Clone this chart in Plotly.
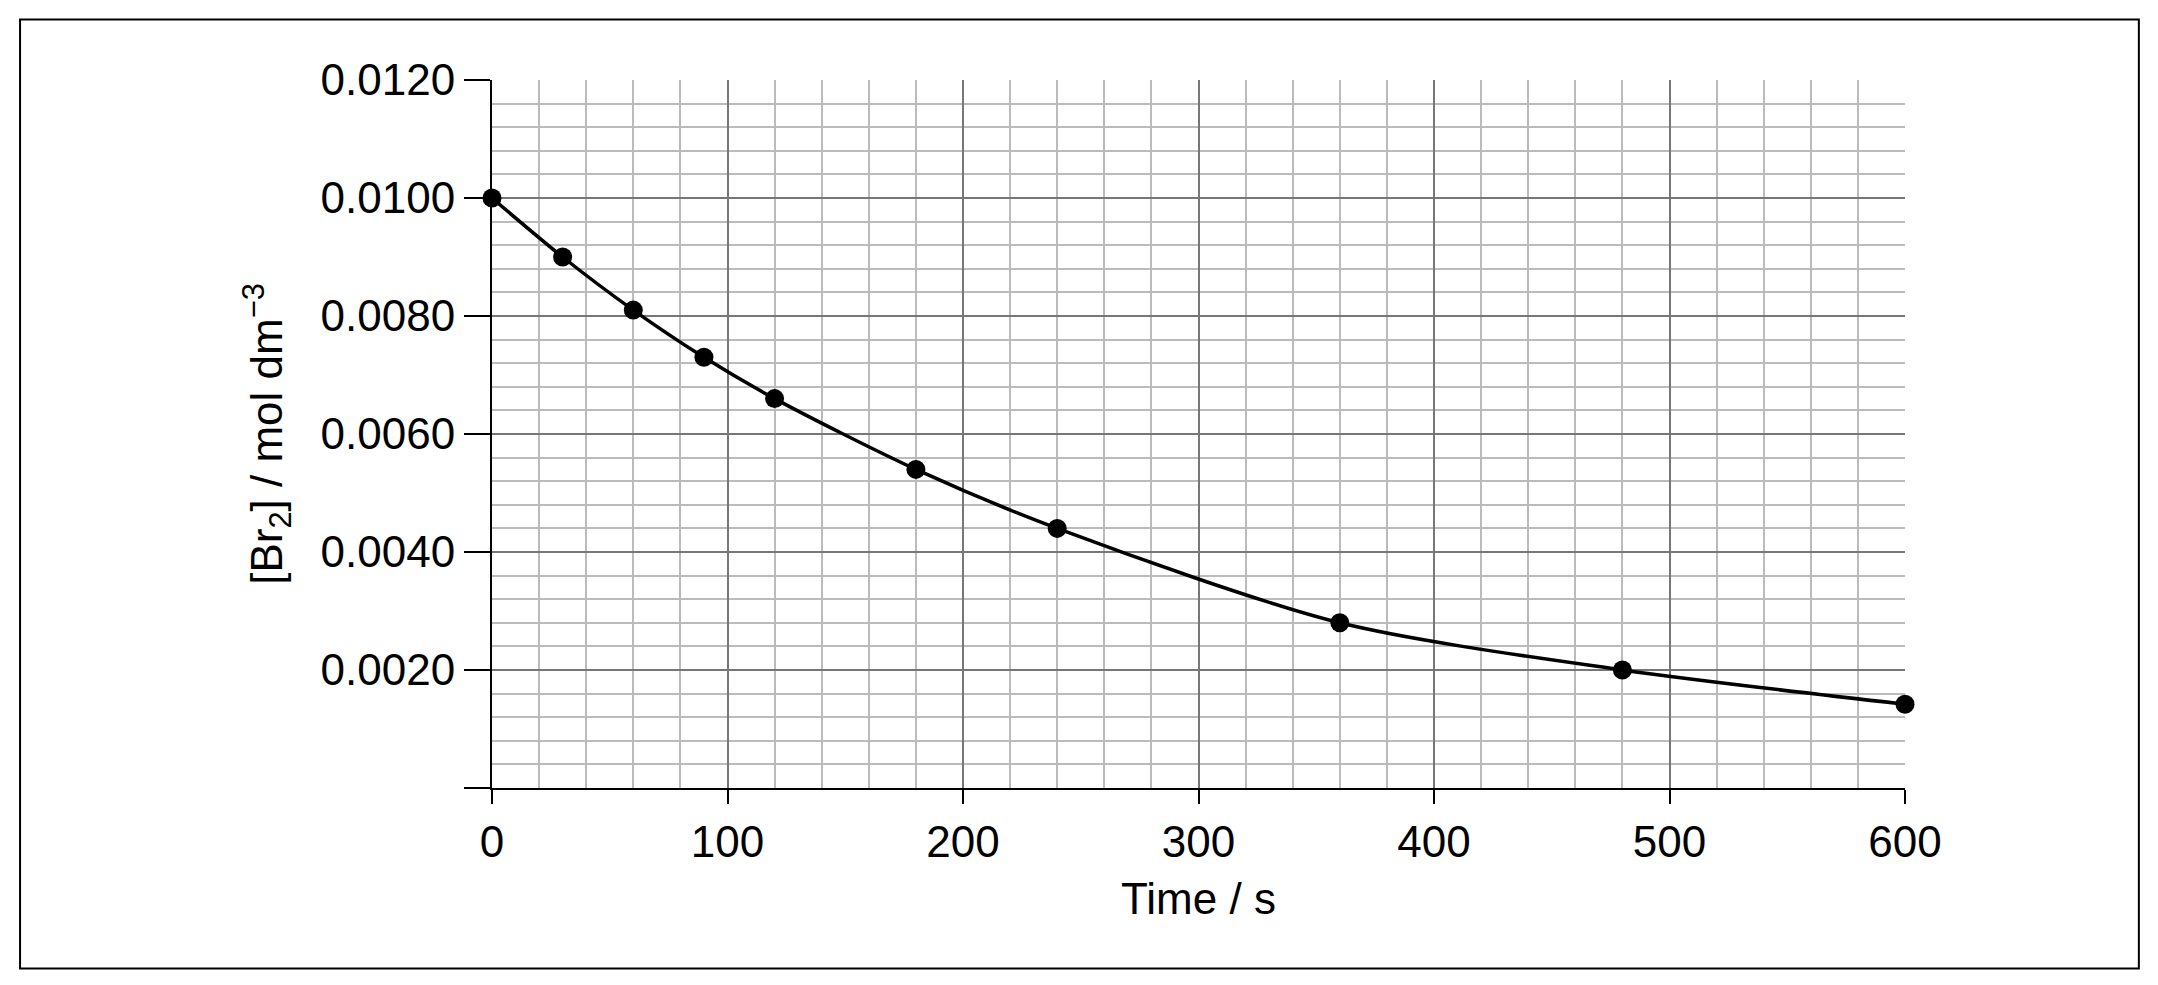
import plotly.graph_objects as go

time_s = [0, 30, 60, 90, 120, 180, 240, 360, 480, 600]
br2_conc = [0.0100, 0.0090, 0.0081, 0.0073, 0.0066, 0.0054, 0.0044, 0.0028, 0.0020, 0.00142]
y_ticks = [0, 0.002, 0.004, 0.006, 0.008, 0.010, 0.012]
y_labels = ["", "0.0020", "0.0040", "0.0060", "0.0080", "0.0100", "0.0120"]

fnt = dict(family="Liberation Sans, Arial, sans-serif", size=44, color="black")

fig = go.Figure()
fig.add_trace(go.Scatter(
    x=time_s, y=br2_conc, mode="lines+markers",
    line=dict(color="black", width=3.5, shape="spline", smoothing=0.8),
    marker=dict(color="black", size=19),
    cliponaxis=False, showlegend=False))

fig.update_layout(
    width=2158, height=985,
    margin=dict(l=484, r=261, t=72, b=205),
    plot_bgcolor="white", paper_bgcolor="white",
    font=fnt,
    shapes=[dict(type="rect", xref="paper", yref="paper",
                 x0=-0.334, x1=1.1655, y0=-0.255, y1=1.0856,
                 line=dict(color="black", width=2), layer="below")],
)
fig.update_xaxes(
    range=[0, 600], dtick=100, tick0=0,
    showgrid=True, gridcolor="#777777", gridwidth=1.5,
    minor=dict(dtick=20, showgrid=True, gridcolor="#bbbbbb", gridwidth=1.5),
    showline=True, linecolor="black", linewidth=2,
    ticks="outside", ticklen=14, tickcolor="black", tickwidth=2,
    zeroline=False, tickfont=fnt,
    title=dict(text="Time / s", font=fnt, standoff=18))
fig.update_yaxes(
    range=[0, 0.012], tickvals=y_ticks, ticktext=y_labels,
    showgrid=True, gridcolor="#777777", gridwidth=1.5,
    minor=dict(tickvals=[i * 0.0004 for i in range(31)], showgrid=True,
               gridcolor="#bbbbbb", gridwidth=1.5),
    showline=True, linecolor="black", linewidth=2,
    ticks="outside", ticklen=26, tickcolor="black", tickwidth=2,
    zeroline=False, tickfont=fnt,
    title=dict(text="[Br<sub>2</sub>] / mol dm<sup>−3</sup>", font=fnt, standoff=24))

fig.write_html("out.html")
